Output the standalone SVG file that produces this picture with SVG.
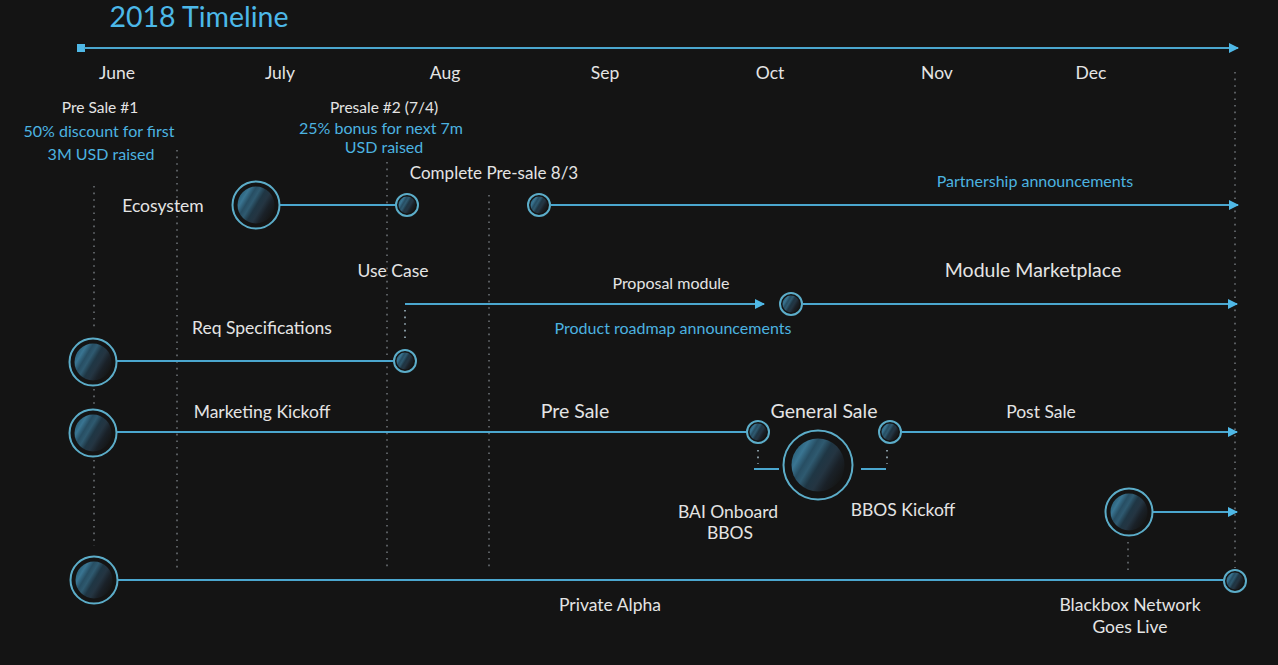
<svg xmlns="http://www.w3.org/2000/svg" width="1278" height="665" viewBox="0 0 1278 665">
<style>
.t{font-family:Lato,"Open Sans","Noto Sans",sans-serif;fill:#e4e4e4;text-anchor:middle;dominant-baseline:central}
.b{fill:#4cb3e0}
.m{font-size:17.5px}
.s{font-size:16px}
.l{font-size:19.5px}
.ln{stroke:#4ba7cf;stroke-width:2;fill:none}
.dot{stroke:#6a6f73;stroke-width:1.6;stroke-dasharray:1.6 5;fill:none}
.dotb{stroke:#9fb5c0;stroke-width:1.6;stroke-dasharray:1.6 5;fill:none}
.ring{fill:#141414;stroke:#5cadc9;stroke-width:2}
.core{fill:url(#sph)}
</style>
<defs>
<linearGradient id="sph" x1="0" y1="0" x2="1" y2="0.6">
<stop offset="0" stop-color="#3e7f9c"/>
<stop offset="0.18" stop-color="#2f6782"/>
<stop offset="0.26" stop-color="#3a7592"/>
<stop offset="0.38" stop-color="#274e63"/>
<stop offset="0.48" stop-color="#2f5a70"/>
<stop offset="0.6" stop-color="#1f3644"/>
<stop offset="0.72" stop-color="#243542"/>
<stop offset="0.85" stop-color="#1a2128"/>
<stop offset="1" stop-color="#161819"/>
</linearGradient>
<marker id="arr" viewBox="0 0 10 10" refX="9" refY="5" markerWidth="10" markerHeight="10" markerUnits="userSpaceOnUse" orient="auto">
<path d="M0,0 L10,5 L0,10 Z" fill="#4fb8e6"/>
</marker>
</defs>
<rect width="1278" height="665" fill="#141414"/>

<g id="title">
<text class="t" x="199" y="16" font-size="28.5" style="fill:#4cb8e8">2018 Timeline</text>
</g>

<g id="connectors">
<line class="dot" x1="94" y1="186" x2="94" y2="330"/>
<line class="dot" x1="94" y1="389" x2="94" y2="408"/>
<line class="dot" x1="94" y1="460" x2="94" y2="546"/>
<line class="dot" x1="177" y1="150" x2="177" y2="568"/>
<line class="dot" x1="387" y1="162" x2="387" y2="570"/>
<line class="dot" x1="489" y1="195" x2="489" y2="570"/>
<line class="dot" x1="1235" y1="72" x2="1235" y2="568"/>
<line class="dot" x1="1128" y1="542" x2="1128" y2="572"/>
<line class="dotb" x1="405" y1="310" x2="405" y2="342"/>
<line class="dotb" x1="758" y1="450" x2="758" y2="464"/>
<line class="dotb" x1="887" y1="450" x2="887" y2="464"/>
<rect x="77" y="44" width="8" height="8" fill="#4fb8e6"/>
<line class="ln" x1="84" y1="48" x2="1238" y2="48" marker-end="url(#arr)"/>
<line class="ln" x1="280" y1="205" x2="396" y2="205"/>
<line class="ln" x1="551" y1="205" x2="1238" y2="205" marker-end="url(#arr)"/>
<line class="ln" x1="405" y1="304" x2="764" y2="304" marker-end="url(#arr)"/>
<line class="ln" x1="803" y1="304" x2="1237" y2="304" marker-end="url(#arr)"/>
<line class="ln" x1="117" y1="361" x2="393" y2="361"/>
<line class="ln" x1="117" y1="432" x2="747" y2="432"/>
<line class="ln" x1="902" y1="432" x2="1237" y2="432" marker-end="url(#arr)"/>
<line class="ln" x1="754" y1="469" x2="779" y2="469"/>
<line class="ln" x1="861" y1="469" x2="886" y2="469"/>
<line class="ln" x1="1152" y1="512" x2="1237" y2="512" marker-end="url(#arr)"/>
<line class="ln" x1="118" y1="580" x2="1223" y2="580"/>
</g>

<g id="months">
<text class="t m" x="117" y="72">June</text>
<text class="t m" x="280" y="72">July</text>
<text class="t m" x="445" y="72">Aug</text>
<text class="t m" x="605" y="72">Sep</text>
<text class="t m" x="770" y="72">Oct</text>
<text class="t m" x="937" y="72">Nov</text>
<text class="t m" x="1091" y="72">Dec</text>
</g>

<g id="presale1">
<text class="t" x="100" y="107" font-size="15.5">Pre Sale #1</text>
<text class="t b s" x="99" y="130">50% discount for first</text>
<text class="t b s" x="101" y="153">3M USD raised</text>
</g>
<g id="presale2">
<text class="t" x="384" y="107" font-size="15.5">Presale #2 (7/4)</text>
<text class="t b s" x="381" y="127">25% bonus for next 7m</text>
<text class="t b s" x="384" y="146">USD raised</text>
</g>

<g id="ecosystem">
<text class="t m" x="163" y="205">Ecosystem</text>
<circle class="ring" cx="256" cy="205" r="23.5"/><circle class="core" cx="256" cy="205" r="18.5"/>
</g>
<g id="complete-presale">
<circle class="ring" cx="407" cy="205" r="11"/><circle class="core" cx="407" cy="205" r="8.5"/>
<text class="t" x="494" y="172" font-size="17">Complete Pre-sale 8/3</text>
</g>
<g id="partnership">
<circle class="ring" cx="539" cy="205" r="11"/><circle class="core" cx="539" cy="205" r="8.5"/>
<text class="t b s" x="1035" y="180">Partnership announcements</text>
</g>
<g id="use-case">
<text class="t m" x="393" y="270">Use Case</text>
<text class="t s" x="671" y="282">Proposal module</text>
<text class="t b s" x="673" y="327">Product roadmap announcements</text>
</g>
<g id="module-marketplace">
<circle class="ring" cx="791" cy="304" r="11"/><circle class="core" cx="791" cy="304" r="8.5"/>
<text class="t l" x="1033" y="269">Module Marketplace</text>
</g>
<g id="req-spec">
<circle class="ring" cx="93" cy="362" r="23.5"/><circle class="core" cx="93" cy="362" r="18.5"/>
<text class="t m" x="262" y="327">Req Specifications</text>
<circle class="ring" cx="405" cy="361" r="11"/><circle class="core" cx="405" cy="361" r="8.5"/>
</g>
<g id="marketing">
<circle class="ring" cx="93" cy="433" r="23.5"/><circle class="core" cx="93" cy="433" r="18.5"/>
<text class="t m" x="262" y="411">Marketing Kickoff</text>
<text class="t l" x="575" y="410">Pre Sale</text>
<circle class="ring" cx="758" cy="432" r="11"/><circle class="core" cx="758" cy="432" r="8.5"/>
</g>
<g id="general-sale">
<text class="t l" x="824" y="410">General Sale</text>
<circle class="ring" cx="818" cy="465" r="34.5"/><circle class="core" cx="818" cy="465" r="26.5"/>
<text class="t m" x="728" y="511">BAI Onboard</text>
<text class="t m" x="730" y="532">BBOS</text>
<text class="t m" x="903" y="509">BBOS Kickoff</text>
</g>
<g id="post-sale">
<circle class="ring" cx="890" cy="432" r="11"/><circle class="core" cx="890" cy="432" r="8.5"/>
<text class="t m" x="1041" y="411">Post Sale</text>
</g>
<g id="right-node">
<circle class="ring" cx="1129" cy="512" r="23.5"/><circle class="core" cx="1129" cy="512" r="18.5"/>
</g>
<g id="private-alpha">
<circle class="ring" cx="94" cy="580" r="23.5"/><circle class="core" cx="94" cy="580" r="18.5"/>
<text class="t m" x="610" y="604">Private Alpha</text>
</g>
<g id="network-live">
<circle class="ring" cx="1235" cy="581" r="11"/><circle class="core" cx="1235" cy="581" r="8.5"/>
<text class="t m" x="1130" y="604">Blackbox Network</text>
<text class="t m" x="1130" y="626">Goes Live</text>
</g>
</svg>
